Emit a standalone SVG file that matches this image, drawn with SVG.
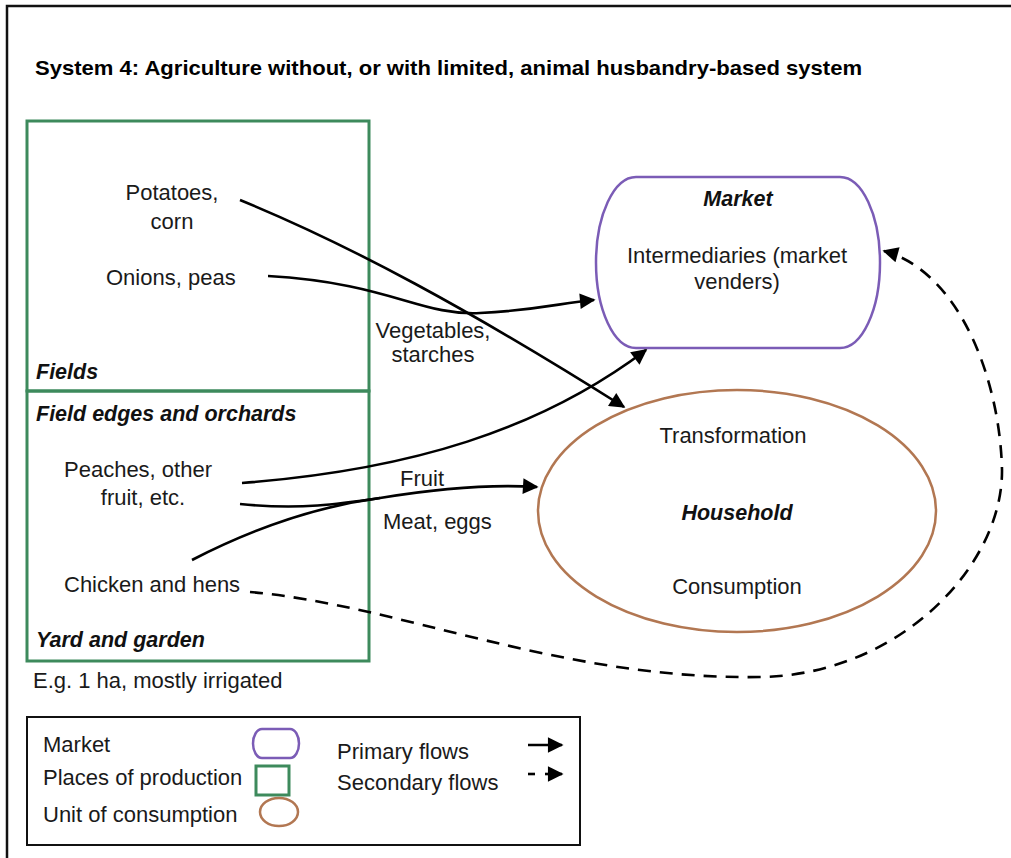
<svg xmlns="http://www.w3.org/2000/svg" width="1011" height="858" viewBox="0 0 1011 858">
  <defs>
    <marker id="arrow" viewBox="0 0 10 10" refX="9" refY="5" markerWidth="7" markerHeight="6" markerUnits="strokeWidth" orient="auto">
      <path d="M0,0 L10,5 L0,10 Z" fill="#000"/>
    </marker>
    <style>
      text { font-family: "Liberation Sans", Arial, sans-serif; fill: #1a1a1a; font-size: 22px; }
      .title { font-size: 21px; font-weight: bold; fill: #000; }
      .bi { font-weight: bold; font-style: italic; fill: #111; font-size: 21.5px; }
      .mid { text-anchor: middle; }
      .prod { fill: none; stroke: #3d8a5c; stroke-width: 3; }
      .market { fill: none; stroke: #7b5cb6; stroke-width: 2.5; }
      .house { fill: none; stroke: #b27752; stroke-width: 2.5; }
      .flow { fill: none; stroke: #000; stroke-width: 2.6; }
      .flow2 { fill: none; stroke: #000; stroke-width: 2.6; stroke-dasharray: 13 9; }
    </style>
  </defs>

  <rect width="1011" height="858" fill="#fff"/>
  <!-- outer frame, open at right and bottom -->
  <rect x="7" y="6" width="1030" height="880" fill="none" stroke="#111" stroke-width="2.5"/>

  <text class="title" x="35" y="75" textLength="827" lengthAdjust="spacingAndGlyphs">System 4: Agriculture without, or with limited, animal husbandry-based system</text>

  <!-- places of production -->
  <g id="fields">
    <rect class="prod" x="27" y="121" width="342" height="270"/>
    <text class="mid" x="172" y="200">Potatoes,</text>
    <text class="mid" x="172" y="229">corn</text>
    <text x="106" y="285">Onions, peas</text>
    <text class="bi" x="36" y="379">Fields</text>
  </g>
  <g id="field-edges">
    <rect class="prod" x="27" y="391" width="342" height="270"/>
    <text class="bi" x="36" y="421">Field edges and orchards</text>
    <text x="64" y="477">Peaches, other</text>
    <text class="mid" x="143" y="505">fruit, etc.</text>
    <text x="64" y="592">Chicken and hens</text>
    <text class="bi" x="36" y="647">Yard and garden</text>
  </g>
  <text x="33" y="688">E.g. 1 ha, mostly irrigated</text>

  <!-- market -->
  <g id="market">
    <path class="market" d="M636,177 H840 A40,85.5 0 0 1 840,348 H636 A40,85.5 0 0 1 636,177 Z"/>
    <text class="bi mid" x="738" y="206">Market</text>
    <text class="mid" x="737" y="263">Intermediaries (market</text>
    <text class="mid" x="737" y="289">venders)</text>
  </g>

  <!-- household -->
  <g id="household">
    <ellipse class="house" cx="737" cy="511" rx="199" ry="121"/>
    <text class="mid" x="733" y="443">Transformation</text>
    <text class="bi mid" x="737" y="520">Household</text>
    <text class="mid" x="737" y="594">Consumption</text>
  </g>

  <!-- flow labels -->
  <text class="mid" x="433" y="338">Vegetables,</text>
  <text class="mid" x="433" y="362">starches</text>
  <text x="400" y="486">Fruit</text>
  <text x="383" y="529">Meat, eggs</text>

  <!-- flows -->
  <g id="connectors">
    <path class="flow" d="M240,200 C 350,245 470,310 624,407" marker-end="url(#arrow)"/>
    <path class="flow" d="M268,276 C 390,283 420,316 480,313 S 560,303 594,300" marker-end="url(#arrow)"/>
    <path class="flow" d="M242,483 C 410,470 540,430 646,350" marker-end="url(#arrow)"/>
    <path class="flow" d="M240,504 C 300,510 340,504 380,498 C 440,488 490,484 537,487" marker-end="url(#arrow)"/>
    <path class="flow" d="M192,560 C 260,525 320,506 380,498"/>
    <path class="flow2" d="M250,592 C 400,605 560,680 760,677 C 900,675 1003,565 1002,470 C 1000,380 960,272 884,251" marker-end="url(#arrow)"/>
  </g>

  <!-- legend -->
  <g id="legend">
    <rect x="27" y="717" width="553" height="128" fill="none" stroke="#111" stroke-width="2"/>
    <text x="43" y="752">Market</text>
    <text x="43" y="785">Places of production</text>
    <text x="43" y="822">Unit of consumption</text>
    <path class="market" d="M262,729 H290 A9,14.5 0 0 1 290,758 H262 A9,14.5 0 0 1 262,729 Z"/>
    <rect class="prod" x="256" y="766" width="33" height="29"/>
    <ellipse class="house" cx="279" cy="812" rx="19" ry="14"/>
    <text x="337" y="759">Primary flows</text>
    <text x="337" y="790">Secondary flows</text>
    <line class="flow" x1="528" y1="745" x2="562" y2="745" marker-end="url(#arrow)"/>
    <line class="flow" x1="528" y1="774" x2="535" y2="774"/>
    <line class="flow" x1="545" y1="774" x2="562" y2="774" marker-end="url(#arrow)"/>
  </g>
</svg>
